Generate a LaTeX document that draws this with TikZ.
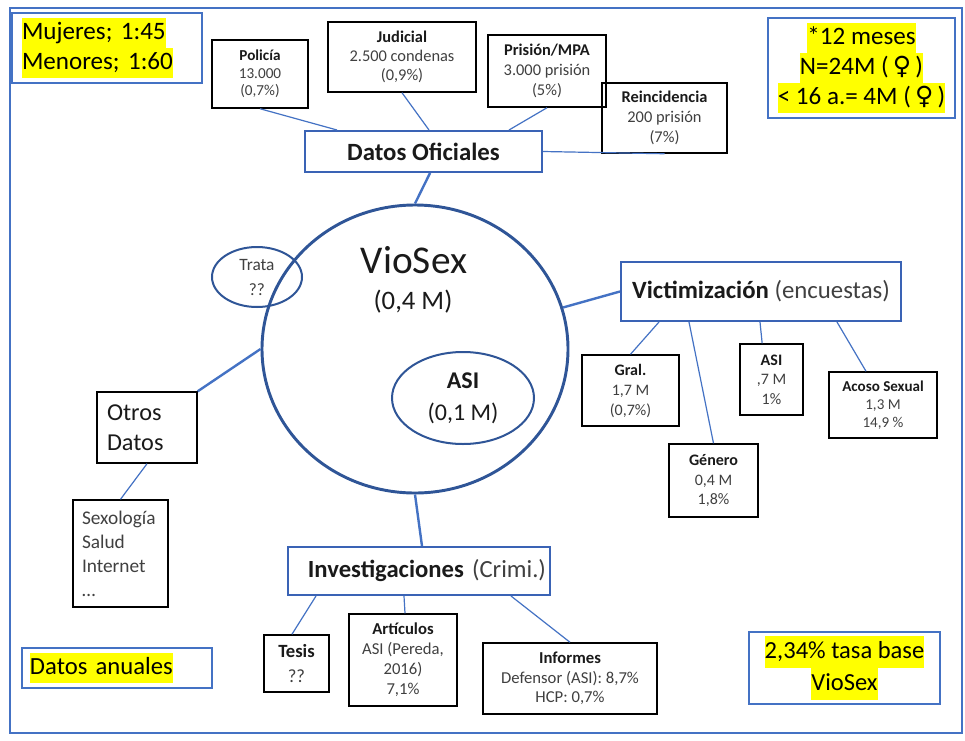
\documentclass[tikz,border=0pt]{standalone}
\usepackage{fontspec}
\setmainfont{Carlito}
\newfontfamily\symf{DejaVu Sans}
\usetikzlibrary{shapes.geometric,calc}
\definecolor{lineblue}{HTML}{4472C4}
\definecolor{circblue}{HTML}{2F5597}
\definecolor{boxblue}{HTML}{3A63B5}
\definecolor{txt}{HTML}{1A1A1A}
\definecolor{subtxt}{HTML}{404040}
\definecolor{hlyellow}{HTML}{FFFF00}
\newcommand\fsz[2]{\fontsize{#1}{#2}\selectfont}
\newcommand\hl[1]{{\setlength\fboxsep{0pt}\colorbox{hlyellow}{\strut #1}}}
\frenchspacing
\begin{document}
\begin{tikzpicture}[x=0.75pt,y=-0.75pt,
  smallbox/.style={draw=black, line width=1.1pt, inner sep=0pt, align=center, text=txt},
  mainbox/.style={draw=boxblue, line width=1.5pt, inner sep=0pt, text=txt},
  notebox/.style={draw=lineblue, line width=1pt, inner sep=0pt, text=black},
  oval/.style={ellipse, draw=circblue, inner sep=0pt, text=txt, align=center},
  conthin/.style={draw=lineblue, line width=0.9pt},
  conthick/.style={draw=lineblue, line width=1.8pt}]
\useasboundingbox (0,0) rectangle (965,740);
\fill[white] (0,0) rectangle (965,740);
\draw[draw=lineblue, line width=1.8pt] (10,8) rectangle (962,733);

% corner notes
\node[notebox, minimum width=142.5pt, minimum height=52.5pt, text width=127.5pt, inner xsep=7.5pt, align=left,
      font=\fsz{18.8}{22.5}] (mujeres) at (107,48) {\hl{Mujeres; 1:45}\\\hl{Menores; 1:60}};
\node[notebox, minimum width=140.25pt, minimum height=75pt, align=center,
      font=\fsz{18.8}{22.5}] (toprt) at (861.5,68)
      {\hl{*12 meses}\\\hl{N=24M (\,{\symf ♀}\,)}\\\hl{< 16 a.= 4M (\,{\symf ♀}\,)}};
\node[notebox, minimum width=142.5pt, minimum height=30pt, text width=130.5pt, inner xsep=6pt, align=left,
      font=\fsz{18.5}{22.5}] (datosan) at (117,668) {\hl{Datos anuales}};
\node[notebox, minimum width=143.25pt, minimum height=54pt, align=center,
      font=\fsz{18.4}{24}] (tasa) at (844.5,668) {\hl{2,34\% tasa base}\\\hl{VioSex}};

% Datos oficiales
\node[smallbox, minimum width=72pt, minimum height=51pt, font=\fsz{11.4}{13.1}] (pol) at (260,74)
  {\textbf{Policía}\\\textcolor{subtxt}{13.000}\\\textcolor{subtxt}{(0,7\%)}};
\node[smallbox, minimum width=111pt, minimum height=52.5pt, font=\fsz{12.3}{14.25}] (jud) at (402,57)
  {\textbf{Judicial}\\\textcolor{subtxt}{2.500 condenas}\\\textcolor{subtxt}{(0,9\%)}};
\node[smallbox, minimum width=88.5pt, minimum height=54pt, font=\fsz{12.3}{15}] (pri) at (547,71)
  {\textbf{Prisión/MPA}\\\textcolor{subtxt}{3.000 prisión}\\\textcolor{subtxt}{(5\%)}};
\node[smallbox, minimum width=93.75pt, minimum height=52.5pt, font=\fsz{12.3}{15}] (rei) at (664.5,118)
  {\textbf{Reincidencia}\\\textcolor{subtxt}{200 prisión}\\\textcolor{subtxt}{(7\%)}};
\node[mainbox, minimum width=177.75pt, minimum height=30.75pt, font=\fsz{18.6}{22}] (dof) at (423.5,151.5)
  {\textbf{Datos Oficiales}};

% central circle
\node[oval, line width=2.2pt, minimum width=229.5pt, minimum height=216pt] (vio) at (415,349) {};
\node[anchor=base, inner sep=0pt, text=txt, font=\fsz{29.5}{34}] (vs1) at (414,273) {VioSex};
\node[anchor=base, inner sep=0pt, text=txt, font=\fsz{20}{24}] (vs2) at (413,309) {(0,4 M)};
\node[oval, line width=1.5pt, minimum width=106.5pt, minimum height=69pt, font=\fsz{18}{24}] (asi) at (463,398)
  {\textbf{ASI}\\(0,1 M)};
\node[oval, line width=1.5pt, minimum width=67.5pt, minimum height=45pt, font=\fsz{13}{18.75}] (trata) at (257,277)
  {\textcolor{subtxt}{Trata}\\\textcolor{subtxt}{??}};

% Victimizacion
\node[mainbox, minimum width=210pt, minimum height=44.25pt, font=\fsz{18.6}{22}] (vic) at (761,291.5)
  {\textbf{Victimización} \textcolor{subtxt}{(encuestas)}};
\node[smallbox, minimum width=72.75pt, minimum height=53.25pt, font=\fsz{12}{15}] (gral) at (630.5,390.5)
  {\textbf{Gral.}\\\textcolor{subtxt}{1,7 M}\\\textcolor{subtxt}{(0,7\%)}};
\node[smallbox, minimum width=66.75pt, minimum height=54.75pt, font=\fsz{12}{14.5}] (gen) at (713.5,480.5)
  {\textbf{Género}\\\textcolor{subtxt}{0,4 M}\\\textcolor{subtxt}{1,8\%}};
\node[smallbox, minimum width=47.25pt, minimum height=53.25pt, font=\fsz{12}{14.5}] (asis) at (771.5,379.5)
  {\textbf{ASI}\\\textcolor{subtxt}{,7 M}\\\textcolor{subtxt}{1\%}};
\node[smallbox, minimum width=81pt, minimum height=49.5pt, font=\fsz{11.3}{13.5}] (acoso) at (883,405)
  {\textbf{Acoso Sexual}\\\textcolor{subtxt}{1,3 M}\\\textcolor{subtxt}{14,9 \%}};

% Otros datos
\node[smallbox, minimum width=75pt, minimum height=53.25pt, text width=60pt, inner xsep=7.5pt, align=left,
      font=\fsz{18.2}{22.5}] (otros) at (147,427.5) {Otros\\Datos};
\node[smallbox, minimum width=71.25pt, minimum height=80.25pt, text width=57.75pt, inner xsep=6.75pt, align=left,
      font=\fsz{14.5}{18}, text=subtxt] (sexo) at (120.5,553.5) {Sexología\\Salud\\Internet\\…};

% Investigaciones
\node[mainbox, minimum width=196.5pt, minimum height=36pt, text width=190.5pt, inner xsep=3pt, align=right,
      font=\fsz{18.5}{22}] (inv) at (419,571) {\textbf{Investigaciones} \textcolor{subtxt}{(Crimi.)}};
\node[smallbox, minimum width=48.75pt, minimum height=42.75pt, font=\fsz{14}{18.75}] (tesis) at (296.5,663.5)
  {\textbf{Tesis}\\\textcolor{subtxt}{??}};
\node[smallbox, minimum width=81pt, minimum height=69pt, font=\fsz{12.5}{15}] (art) at (403,660)
  {\textbf{Artículos}\\\textcolor{subtxt}{ASI (Pereda,}\\\textcolor{subtxt}{2016)}\\\textcolor{subtxt}{7,1\%}};
\node[smallbox, minimum width=130.5pt, minimum height=53.25pt, font=\fsz{12.5}{14.6}] (inf) at (570,678.5)
  {\textbf{Informes}\\\textcolor{subtxt}{Defensor (ASI): 8,7\%}\\\textcolor{subtxt}{HCP: 0,7\%}};

% connectors
\draw[conthin] (pol.south) -- ([xshift=24.75pt]dof.north west);
\draw[conthin] (jud.south) -- ([xshift=93.75pt]dof.north west);
\draw[conthin] (pri.south) -- ([xshift=153.75pt]dof.north west);
\draw[conthin] (dof.east) -- (rei.south);
\draw[conthick] ([xshift=4.9pt]dof.south) -- (vio.north);
\draw[conthick] (vio) -- (vic.west);
\draw[conthick] (otros.north east) -- (vio.west);
\draw[conthick] (vio.south) -- ([xshift=2.25pt]inv.north);
\draw[conthin] ([xshift=29.25pt]vic.south west) -- (gral.north);
\draw[conthin] ([xshift=51.75pt]vic.south west) -- (gen.north);
\draw[conthin] ([xshift=105pt]vic.south west) -- ([xshift=-7pt]asis.north);
\draw[conthin] ([xshift=162.75pt]vic.south west) -- ([xshift=-12.75pt]acoso.north);
\draw[conthin] (otros.south) -- (sexo.north);
\draw[conthin] ([xshift=21.75pt]inv.south west) -- ([xshift=-3.4pt]tesis.north);
\draw[conthin] ([xshift=87.75pt]inv.south west) -- ([xshift=1.5pt]art.north);
\draw[conthin] ([xshift=168pt]inv.south west) -- (inf.north);
\end{tikzpicture}
\end{document}
